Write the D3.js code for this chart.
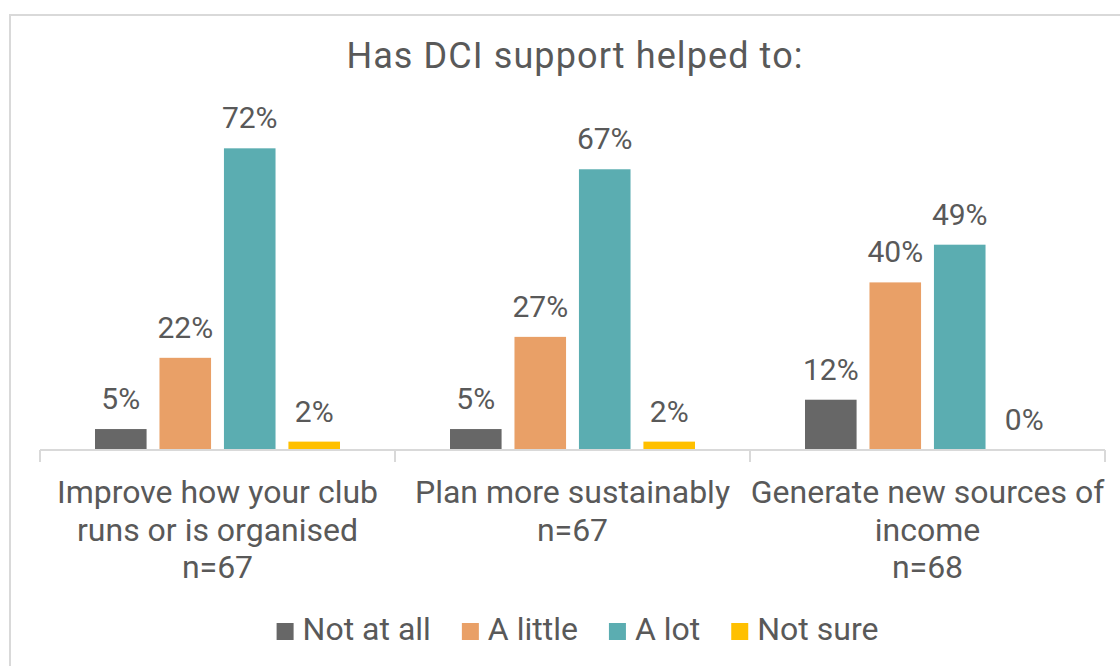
<!DOCTYPE html>
<html>
<head>
<meta charset="utf-8">
<script src="https://cdn.jsdelivr.net/npm/d3@7"></script>
<style>
  body { margin: 0; background: #fff; }
  svg { display: block; font-family: Roboto, "Noto Sans", sans-serif; }
</style>
</head>
<body>
<svg id="chart" width="1120" height="666"></svg>
<script>
// Survey results: share of clubs answering each option, per question
const categoryLines = [
  ["Improve how your club", "runs or is organised", "n=67"],
  ["Plan more sustainably", "n=67"],
  ["Generate new sources of", "income", "n=68"]
];
const seriesNames = ["Not at all", "A little", "A lot", "Not sure"];
const notAtAll = [5, 5, 12];
const aLittle  = [22, 27, 40];
const aLot     = [72, 67, 49];
const notSure  = [2, 2, 0];
const seriesColors = ["#676767", "#E9A067", "#5BADB1", "#FFC000"];
const chartTitle = "Has DCI support helped to:";

const seriesValues = [notAtAll, aLittle, aLot, notSure];
const catKeys = categoryLines.map(l => l.join(" "));

const svg = d3.select("#chart");
const textColor = "#595959";
const gridColor = "#d9d9d9";

// chart frame
svg.append("rect")
  .attr("x", 10).attr("y", 15)
  .attr("width", 1200).attr("height", 700)
  .attr("fill", "none").attr("stroke", gridColor).attr("stroke-width", 2);

// title
svg.append("text")
  .attr("x", 575).attr("y", 68)
  .attr("text-anchor", "middle")
  .attr("font-size", 36).attr("letter-spacing", 1.1)
  .attr("fill", textColor)
  .text(chartTitle);

const x0 = d3.scaleBand().domain(catKeys).range([40, 1105]).padding(0);
const x1 = d3.scaleBand().domain(seriesNames).range([55, 300]).paddingInner(0.2);
const y = d3.scaleLinear().domain([0, 80]).range([450, 450 - 80 * 4.19]);

// bars
const groups = svg.selectAll("g.cat")
  .data(catKeys)
  .join("g")
  .attr("class", "cat")
  .attr("transform", d => `translate(${x0(d)},0)`);

groups.each(function(cat, ci) {
  const g = d3.select(this);
  const rows = seriesNames.map((s, si) => ({ s, si, v: seriesValues[si][ci] }));
  g.selectAll("rect")
    .data(rows)
    .join("rect")
    .attr("x", d => x1(d.s))
    .attr("width", x1.bandwidth())
    .attr("y", d => y(d.v))
    .attr("height", d => y(0) - y(d.v))
    .attr("fill", d => seriesColors[d.si]);
  g.selectAll("text.val")
    .data(rows)
    .join("text")
    .attr("class", "val")
    .attr("x", d => x1(d.s) + x1.bandwidth() / 2)
    .attr("y", d => y(d.v) - 20)
    .attr("text-anchor", "middle")
    .attr("font-size", 30)
    .attr("fill", textColor)
    .text(d => d.v + "%");
});

// category axis with boundary ticks
const axisY = y(0);
svg.append("line")
  .attr("x1", x0.range()[0]).attr("x2", x0.range()[1])
  .attr("y1", axisY).attr("y2", axisY)
  .attr("stroke", gridColor).attr("stroke-width", 2);
const tickXs = catKeys.map(c => x0(c)).concat([x0.range()[1]]);
svg.selectAll("line.tick")
  .data(tickXs)
  .join("line")
  .attr("class", "tick")
  .attr("x1", d => d).attr("x2", d => d)
  .attr("y1", axisY).attr("y2", axisY + 12)
  .attr("stroke", gridColor).attr("stroke-width", 2);

// category labels
categoryLines.forEach((lines, ci) => {
  const cx = x0(catKeys[ci]) + x0.bandwidth() / 2;
  const t = svg.append("text")
    .attr("text-anchor", "middle")
    .attr("font-size", 32)
    .attr("fill", textColor);
  lines.forEach((ln, li) => {
    t.append("tspan").attr("x", cx).attr("y", 503 + li * 37.5).text(ln);
  });
});

// legend
const legend = svg.append("g");
const sq = 17, gapText = 9, gapItem = 31;
let lx = 0;
seriesNames.forEach((s, i) => {
  const item = legend.append("g").attr("transform", `translate(${lx},0)`);
  item.append("rect")
    .attr("x", 0).attr("y", 623)
    .attr("width", sq).attr("height", sq)
    .attr("fill", seriesColors[i]);
  const t = item.append("text")
    .attr("x", sq + gapText).attr("y", 640)
    .attr("font-size", 32).attr("fill", textColor)
    .text(s);
  lx += sq + gapText + t.node().getComputedTextLength() + gapItem;
});
const legendWidth = lx - gapItem;
legend.attr("transform", `translate(${577.5 - legendWidth / 2},0)`);
</script>
</body>
</html>
